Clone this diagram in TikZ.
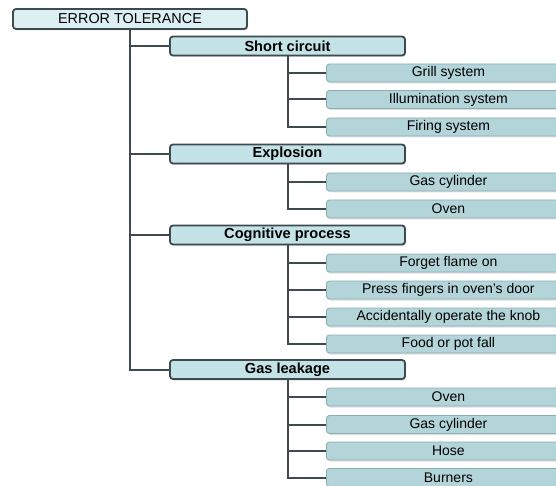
\documentclass[tikz,border=0pt]{standalone}
\usepackage{fontspec}
\setmainfont{Liberation Sans}
\usetikzlibrary{shadows}
\definecolor{rootfill}{HTML}{DCF0F3}
\definecolor{midfill}{HTML}{C4E3E6}
\definecolor{leaffill}{HTML}{B3D4D8}
\definecolor{darkline}{HTML}{3E4A4D}
\definecolor{leafline}{HTML}{8AAEB2}
\tikzset{
  rootbox/.style={draw=darkline, line width=1.8pt, fill=rootfill, rounded corners=3pt,
    minimum width=234pt, minimum height=20pt, inner sep=0pt, font=\fontsize{14.4}{16}\selectfont,
    drop shadow={shadow xshift=1pt, shadow yshift=-1.5pt, opacity=0.25}},
  midbox/.style={draw=darkline, line width=1.8pt, fill=midfill, rounded corners=3pt,
    minimum width=235pt, minimum height=19pt, inner sep=0pt, font=\bfseries\fontsize{14.6}{16}\selectfont,
    drop shadow={shadow xshift=1pt, shadow yshift=-1.5pt, opacity=0.25}},
  leafbox/.style={draw=leafline, line width=0.8pt, fill=leaffill, rounded corners=3pt,
    minimum width=244pt, minimum height=18pt, inner sep=0pt, anchor=west, font=\fontsize{14}{16}\selectfont,
    drop shadow={shadow xshift=1pt, shadow yshift=-1.5pt, opacity=0.25}},
  conn/.style={draw=darkline, line width=2pt}
}
\begin{document}
\begin{tikzpicture}[x=1pt,y=-1pt]
\useasboundingbox (0,0) rectangle (556,486);
\clip (0,0) rectangle (556,486);
% connectors first (behind boxes)
\path (130,19) coordinate (rc) (287.5,46) coordinate (scc);
% root
\node[rootbox] (root) at (130,19) {ERROR TOLERANCE};
% level 1
\node[midbox] (sc) at (287.5,46) {Short circuit};
\node[midbox] (ex) at (287.5,154) {Explosion};
\node[midbox] (cp) at (287.5,235) {Cognitive process};
\node[midbox] (gl) at (287.5,369.5) {Gas leakage};
% leaves
\node[leafbox] (sc1) at (326,73) {Grill system};
\node[leafbox] (sc2) at (326,99.5) {Illumination system};
\node[leafbox] (sc3) at (326,127) {Firing system};
\node[leafbox] (ex1) at (326,182) {Gas cylinder};
\node[leafbox] (ex2) at (326,209) {Oven};
\node[leafbox] (cp1) at (326,263) {Forget flame on};
\node[leafbox] (cp2) at (326,290) {Press fingers in oven's door};
\node[leafbox] (cp3) at (326,317) {Accidentally operate the knob};
\node[leafbox] (cp4) at (326,344) {Food or pot fall};
\node[leafbox] (gl1) at (326,397) {Oven};
\node[leafbox] (gl2) at (326,424.5) {Gas cylinder};
\node[leafbox] (gl3) at (326,451) {Hose};
\node[leafbox] (gl4) at (326,477.5) {Burners};
% connectors
\foreach \m in {sc,ex,cp,gl}{
  \draw[conn] (root.south) |- (\m.west);
}
\foreach \l in {sc1,sc2,sc3}{\draw[conn] (sc.south) |- (\l.west);}
\foreach \l in {ex1,ex2}{\draw[conn] (ex.south) |- (\l.west);}
\foreach \l in {cp1,cp2,cp3,cp4}{\draw[conn] (cp.south) |- (\l.west);}
\foreach \l in {gl1,gl2,gl3,gl4}{\draw[conn] (gl.south) |- (\l.west);}
\end{tikzpicture}
\end{document}
